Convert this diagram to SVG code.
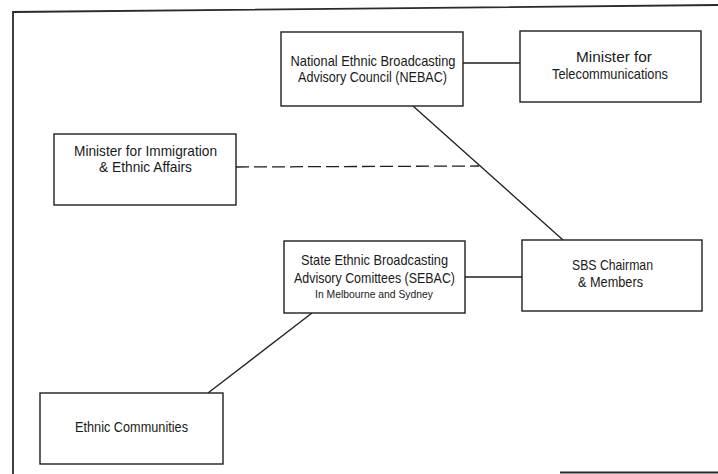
<svg xmlns="http://www.w3.org/2000/svg" width="718" height="474" viewBox="0 0 718 474">
<style>
.box{fill:#fff;stroke:#1e1e1e;stroke-width:1.4}
.ln{fill:none;stroke:#1e1e1e;stroke-width:1.3}
.dash{stroke-dasharray:13 5}
.frame{fill:none;stroke:#2a2a2a;stroke-width:1.8}
text{font-family:"Liberation Sans",Arial,sans-serif;font-size:15px;fill:#1a1a1a;text-anchor:middle}
.sm{font-size:11px}
</style>
<rect width="718" height="474" fill="#fff"/>
<path class="frame" d="M13,474 V12 L718,5"/>
<path class="frame" d="M560,472.5 H718"/>
<g id="connectors">
<line class="ln" x1="463" y1="63" x2="520" y2="63"/>
<line class="ln dash" x1="236" y1="167" x2="479" y2="166"/>
<line class="ln" x1="413" y1="106" x2="563" y2="240"/>
<line class="ln" x1="465" y1="277" x2="522" y2="277"/>
<line class="ln" x1="312" y1="313" x2="208" y2="393"/>
</g>
<g id="nebac">
<rect class="box" x="281" y="32" width="182" height="74"/>
<text x="373" y="66" textLength="165" lengthAdjust="spacingAndGlyphs">National Ethnic Broadcasting</text>
<text x="372.5" y="82" textLength="149" lengthAdjust="spacingAndGlyphs">Advisory Council (NEBAC)</text>
</g>
<g id="telecom">
<rect class="box" x="520" y="31" width="181" height="71"/>
<text x="614" y="62" textLength="76" lengthAdjust="spacingAndGlyphs">Minister for</text>
<text x="610" y="79" textLength="116" lengthAdjust="spacingAndGlyphs">Telecommunications</text>
</g>
<g id="immigration">
<rect class="box" x="54" y="134" width="182" height="71"/>
<text x="145.5" y="156" textLength="143" lengthAdjust="spacingAndGlyphs">Minister for Immigration</text>
<text x="145.5" y="172" textLength="93" lengthAdjust="spacingAndGlyphs">&amp; Ethnic Affairs</text>
</g>
<g id="sebac">
<rect class="box" x="284" y="241" width="181" height="72"/>
<text x="374.5" y="265" textLength="147" lengthAdjust="spacingAndGlyphs">State Ethnic Broadcasting</text>
<text x="374.5" y="283" textLength="161" lengthAdjust="spacingAndGlyphs">Advisory Comittees (SEBAC)</text>
<text class="sm" x="374" y="298" textLength="118" lengthAdjust="spacingAndGlyphs">In Melbourne and Sydney</text>
</g>
<g id="sbs">
<rect class="box" x="522" y="240" width="180" height="71"/>
<text x="612.5" y="270" textLength="81" lengthAdjust="spacingAndGlyphs">SBS Chairman</text>
<text x="610.5" y="287" textLength="65" lengthAdjust="spacingAndGlyphs">&amp; Members</text>
</g>
<g id="communities">
<rect class="box" x="40" y="393" width="183" height="71"/>
<text x="131.5" y="432" textLength="113" lengthAdjust="spacingAndGlyphs">Ethnic Communities</text>
</g>
</svg>
